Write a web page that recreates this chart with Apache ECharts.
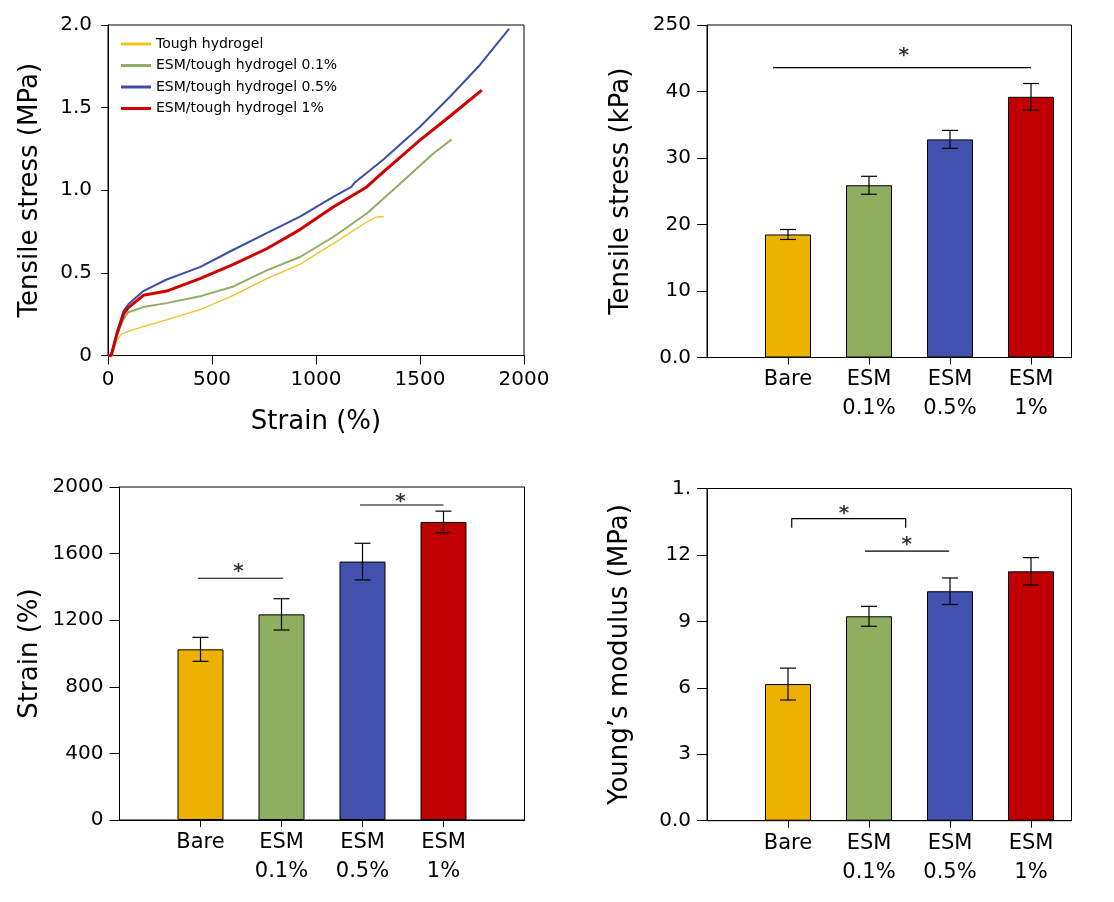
<!DOCTYPE html>
<html>
<head>
<meta charset="utf-8">
<script src="https://cdn.jsdelivr.net/npm/echarts@6/dist/echarts.min.js"></script>
<style>html,body{margin:0;padding:0;background:#fff}#c{width:1114px;height:902px}</style>
</head>
<body>
<div id="c"></div>
<script>
// ---------- data ----------
const legendNames = ['Tough hydrogel', 'ESM/tough hydrogel 0.1%', 'ESM/tough hydrogel 0.5%', 'ESM/tough hydrogel 1%'];
const curveTough = [[0,0],[20,0],[42,0.091],[66,0.131],[122,0.156],[282,0.216],[442,0.277],[603,0.364],[763,0.465],[923,0.552],[1083,0.677],[1244,0.808],[1292,0.838],[1325,0.84]];
const curve01 = [[0,0],[15,0],[45,0.13],[75,0.22],[98,0.262],[170,0.293],[282,0.317],[442,0.358],[603,0.418],[763,0.515],[923,0.596],[1083,0.717],[1244,0.859],[1404,1.04],[1564,1.222],[1652,1.307]];
const curve05 = [[0,0],[15,0],[45,0.15],[75,0.27],[98,0.31],[170,0.39],[282,0.46],[442,0.535],[603,0.64],[763,0.74],[923,0.84],[1083,0.96],[1170,1.02],[1185,1.045],[1324,1.186],[1500,1.384],[1644,1.566],[1788,1.758],[1928,1.976]];
const curve1 = [[0,0],[15,0],[45,0.14],[75,0.25],[98,0.29],[170,0.364],[282,0.39],[442,0.465],[603,0.551],[763,0.646],[923,0.762],[1083,0.899],[1244,1.02],[1324,1.111],[1500,1.303],[1644,1.448],[1797,1.606]];

const categories = ['Bare', 'ESM\n0.1%', 'ESM\n0.5%', 'ESM\n1%'];
const catPos = [1, 2, 3, 4];
const stressKPa = [18.5, 25.9, 32.8, 39.2];
const stressErr = [0.75, 1.35, 1.35, 2.0];
const strainPct = [1025, 1235, 1552, 1790];
const strainErr = [72, 94, 110, 65];
const modulus = [6.17, 9.23, 10.36, 11.26];
const modulusErr = [0.72, 0.45, 0.6, 0.62];

const yTicksStressMPa = {0: '0', 0.5: '0.5', 1: '1.0', 1.5: '1.5', 2: '2.0'};
const yTicksStressKPa = {0: '0.0', 10: '10', 20: '20', 30: '30', 40: '40', 50: '250'};
const yTicksModulus = {0: '0.0', 3: '3', 6: '6', 9: '9', 12: '12', 15: '1.'};

// significance marks (data coordinates)
const sigTR = [[0.815, 43.6], [4.0, 43.6]];
const starTR = [[2.43, 46.1]];
const sigBL1 = [[0.97, 1452], [2.02, 1452]];
const sigBL2 = [[2.97, 1892], [4.0, 1892]];
const starBL = [[1.47, 1521], [3.47, 1942]];
const sigBR1 = [[1.046, 13.23], [1.046, 13.64], [2.453, 13.64], [2.453, 13.23]];
const sigBR2 = [[1.95, 12.17], [2.99, 12.17]];
const starBR = [[1.69, 14.1], [2.465, 12.69]];

// ---------- style ----------
const barColors = ['#EDB200', '#8FAE5F', '#4251AE', '#C00000'];
const lineColors = ['#F0C21C', '#8FAD63', '#3D4DAA', '#D00000'];
const lineWidths = [1.3, 2, 2, 3];
const FONT = 'DejaVu Sans';

const chart = echarts.init(document.getElementById('c'));

function yAxisCommon(extra) {
  return Object.assign({
    type: 'value',
    nameLocation: 'middle',
    nameRotate: 90,
    nameTextStyle: {fontSize: 26, color: '#000', fontFamily: FONT},
    axisLine: {show: true, lineStyle: {color: '#000', width: 1}},
    axisTick: {show: true, inside: false, length: 10, lineStyle: {color: '#000'}},
    axisLabel: {fontSize: 20, color: '#000', fontFamily: FONT, margin: 16, formatter: v => String(v)},
    splitLine: {show: false}
  }, extra);
}
function barXAxis(gi, max) {
  return {
    type: 'value', gridIndex: gi, min: 0, max: max, interval: 1,
    axisLine: {show: true, lineStyle: {color: '#000', width: 1}},
    axisTick: {show: true, length: 7, customValues: catPos, lineStyle: {color: '#000'}},
    axisLabel: {
      customValues: catPos, fontSize: 21, lineHeight: 29, color: '#000', fontFamily: FONT, margin: 8,
      formatter: v => { const i = catPos.indexOf(v); return i >= 0 ? categories[i] : ''; }
    },
    splitLine: {show: false}
  };
}
function errRender(params, api) {
  const x = api.value(0), lo = api.value(1), hi = api.value(2);
  const p1 = api.coord([x, hi]), p2 = api.coord([x, lo]);
  const w = 8;
  const st = {stroke: '#000', lineWidth: 1.2};
  return {type: 'group', children: [
    {type: 'line', shape: {x1: p1[0], y1: p1[1], x2: p2[0], y2: p2[1]}, style: st},
    {type: 'line', shape: {x1: p1[0] - w, y1: p1[1], x2: p1[0] + w, y2: p1[1]}, style: st},
    {type: 'line', shape: {x1: p2[0] - w, y1: p2[1], x2: p2[0] + w, y2: p2[1]}, style: st}
  ]};
}
function barSeries(gi, vals, errs) {
  return [
    {
      type: 'bar', xAxisIndex: gi, yAxisIndex: gi, barWidth: 46,
      data: vals.map((v, i) => ({value: [catPos[i], v], itemStyle: {color: barColors[i]}})),
      itemStyle: {borderColor: '#000', borderWidth: 1}, z: 2
    },
    {
      type: 'custom', xAxisIndex: gi, yAxisIndex: gi, renderItem: errRender, z: 5,
      data: vals.map((v, i) => [catPos[i], v - errs[i], v + errs[i]])
    }
  ];
}
function sigLine(gi, pts) {
  return {type: 'line', xAxisIndex: gi, yAxisIndex: gi, data: pts, symbol: 'none', silent: true,
    lineStyle: {color: '#000', width: 1.2}, z: 6};
}
function stars(gi, pts) {
  return {type: 'scatter', xAxisIndex: gi, yAxisIndex: gi, data: pts, symbolSize: 1, silent: true,
    itemStyle: {color: 'rgba(0,0,0,0)'}, z: 6,
    label: {show: true, position: 'inside', formatter: '*', fontSize: 20, fontWeight: 'bold', color: '#000', fontFamily: FONT, offset: [0, 5]}};
}

const curves = [curveTough, curve01, curve05, curve1];

const option = {
  backgroundColor: '#fff',
  animation: false,
  textStyle: {fontFamily: FONT},
  legend: {
    orient: 'vertical', left: 116, top: 31, itemWidth: 30, itemHeight: 3, itemGap: 5.5,
    icon: 'rect',
    textStyle: {fontSize: 14, color: '#000', fontFamily: FONT, lineHeight: 16},
    data: legendNames
  },
  grid: [
    {left: 108, top: 25, width: 416, height: 330.5, show: true, borderColor: '#000', borderWidth: 1, containLabel: false},
    {left: 707, top: 25, width: 364.5, height: 332.5, show: true, borderColor: '#000', borderWidth: 1, containLabel: false},
    {left: 119.5, top: 487, width: 405, height: 333, show: true, borderColor: '#000', borderWidth: 1, containLabel: false},
    {left: 707, top: 488.5, width: 364.5, height: 332.2, show: true, borderColor: '#000', borderWidth: 1, containLabel: false}
  ],
  xAxis: [
    {
      type: 'value', gridIndex: 0, min: 0, max: 2000, interval: 500,
      name: 'Strain (%)', nameLocation: 'middle', nameGap: 54,
      nameTextStyle: {fontSize: 26, color: '#000', fontFamily: FONT},
      axisLine: {show: true, lineStyle: {color: '#000', width: 1}},
      axisTick: {show: true, length: 9, lineStyle: {color: '#000'}},
      axisLabel: {fontSize: 20, color: '#000', fontFamily: FONT, margin: 14, formatter: v => String(v)},
      splitLine: {show: false}
    },
    barXAxis(1, 4.5),
    barXAxis(2, 5),
    barXAxis(3, 4.5)
  ],
  yAxis: [
    yAxisCommon({gridIndex: 0, min: 0, max: 2, interval: 0.5, name: 'Tensile stress (MPa)', nameGap: 65,
      axisTick: {show: true, length: 7, lineStyle: {color: '#000'}},
      axisLabel: {fontSize: 20, color: '#000', fontFamily: FONT, margin: 16, formatter: v => yTicksStressMPa[v] ?? String(v)}}),
    yAxisCommon({gridIndex: 1, min: 0, max: 50, interval: 10, name: 'Tensile stress (kPa)', nameGap: 73,
      axisLabel: {fontSize: 20, color: '#000', fontFamily: FONT, margin: 16, formatter: v => yTicksStressKPa[v] ?? String(v)}}),
    yAxisCommon({gridIndex: 2, min: 0, max: 2000, interval: 400, name: 'Strain (%)', nameGap: 76}),
    yAxisCommon({gridIndex: 3, min: 0, max: 15, interval: 3, name: 'Young\u2019s modulus (MPa)', nameGap: 74,
      axisLabel: {fontSize: 20, color: '#000', fontFamily: FONT, margin: 16, formatter: v => yTicksModulus[v] ?? String(v)}})
  ],
  series: [
    ...curves.map((c, i) => ({
      name: legendNames[i], type: 'line', xAxisIndex: 0, yAxisIndex: 0, data: c,
      symbol: 'none', smooth: false, color: lineColors[i],
      lineStyle: {color: lineColors[i], width: lineWidths[i]}, z: 3 + (i === 3 ? 1 : 0)
    })),
    ...barSeries(1, stressKPa, stressErr),
    sigLine(1, sigTR), stars(1, starTR),
    ...barSeries(2, strainPct, strainErr),
    sigLine(2, sigBL1), sigLine(2, sigBL2), stars(2, starBL),
    ...barSeries(3, modulus, modulusErr),
    sigLine(3, sigBR1), sigLine(3, sigBR2), stars(3, starBR)
  ]
};
chart.setOption(option);
</script>
</body>
</html>
